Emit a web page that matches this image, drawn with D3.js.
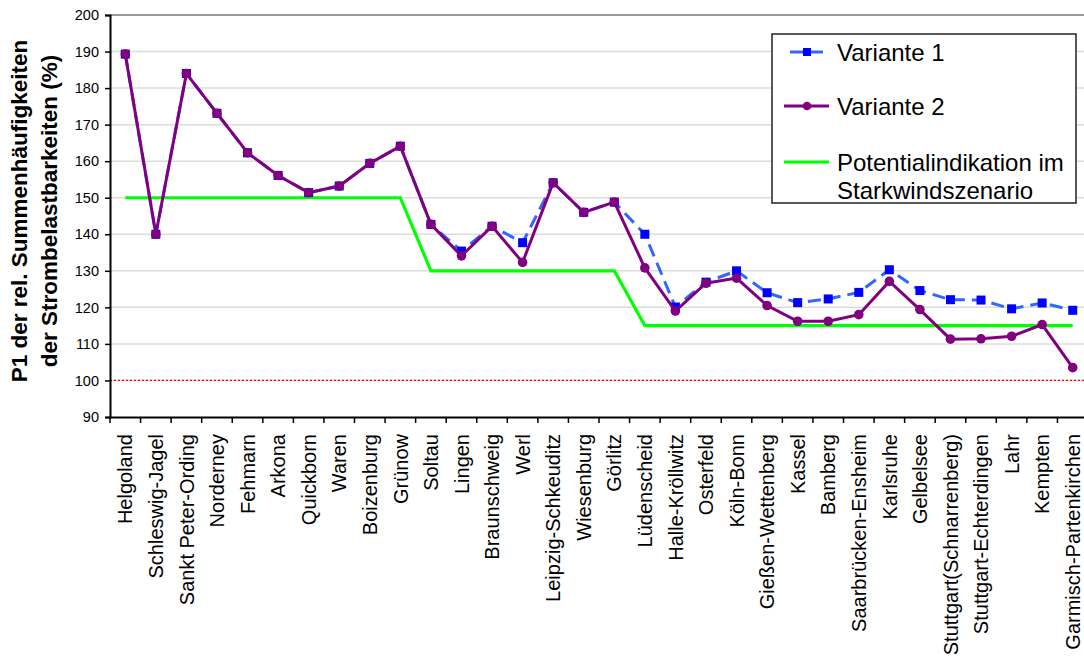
<!DOCTYPE html>
<html>
<head>
<meta charset="utf-8">
<script src="https://cdn.jsdelivr.net/npm/d3@7"></script>
<style>
  html, body { margin: 0; padding: 0; background: #ffffff; }
  svg { display: block; font-family: "Liberation Sans", Arial, sans-serif; }
</style>
</head>
<body>
<svg id="chart" width="1084" height="666"></svg>
<script>
const categories = ["Helgoland", "Schleswig-Jagel", "Sankt Peter-Ording", "Norderney", "Fehmarn", "Arkona", "Quickborn", "Waren", "Boizenburg", "Grünow", "Soltau", "Lingen", "Braunschweig", "Werl", "Leipzig-Schkeuditz", "Wiesenburg", "Görlitz", "Lüdenscheid", "Halle-Kröllwitz", "Osterfeld", "Köln-Bonn", "Gießen-Wettenberg", "Kassel", "Bamberg", "Saarbrücken-Ensheim", "Karlsruhe", "Gelbelsee", "Stuttgart(Schnarrenberg)", "Stuttgart-Echterdingen", "Lahr", "Kempten", "Garmisch-Partenkirchen"];

const variante1 = [189.3, 140.0, 184.0, 173.1, 162.3, 156.1, 151.4, 153.2, 159.4, 164.1, 142.7, 135.4, 142.2, 137.7, 154.1, 146.0, 148.8, 140.0, 120.1, 126.9, 130.0, 124.0, 121.3, 122.3, 124.1, 130.3, 124.6, 122.1, 122.0, 119.6, 121.2, 119.2];

const variante2 = [189.3, 140.0, 184.0, 173.1, 162.3, 156.1, 151.4, 153.2, 159.4, 164.1, 142.7, 134.1, 142.2, 132.3, 154.1, 146.0, 148.8, 130.8, 119.0, 126.6, 128.0, 120.5, 116.2, 116.2, 118.0, 127.1, 119.4, 111.3, 111.4, 112.1, 115.3, 103.5];

const potential = [150, 150, 150, 150, 150, 150, 150, 150, 150, 150, 130, 130, 130, 130, 130, 130, 130, 115, 115, 115, 115, 115, 115, 115, 115, 115, 115, 115, 115, 115, 115, 115];

const yTicks = [90, 100, 110, 120, 130, 140, 150, 160, 170, 180, 190, 200];
const referenceLine = 100;

const legendLabels = ["Variante 1", "Variante 2", ["Potentialindikation im", "Starkwindszenario"]];
const yTitle = ["P1 der rel. Summenhäufigkeiten", "der Strombelastbarkeiten (%)"];

const svg = d3.select("#chart");

const x = d3.scaleBand().domain(categories).range([110, 1088]).padding(0);
const y = d3.scaleLinear().domain([90, 200]).range([417, 15]);
const cx = d => x(d) + x.bandwidth() / 2;

// gridlines
svg.append("g").selectAll("line")
  .data(yTicks.filter(t => t > 90))
  .join("line")
  .attr("x1", 110).attr("x2", 1084)
  .attr("y1", d => y(d)).attr("y2", d => y(d))
  .attr("stroke", d => d === 200 ? "#9a9a9a" : "#dcdcdc")
  .attr("stroke-width", d => d === 200 ? 2 : 1.5);

// reference dotted line at 100
svg.append("line")
  .attr("x1", 110).attr("x2", 1084)
  .attr("y1", y(referenceLine)).attr("y2", y(referenceLine))
  .attr("stroke", "#ff0000").attr("stroke-width", 1.2)
  .attr("stroke-dasharray", "2,2");

// y axis
const yAxis = svg.append("g")
  .attr("transform", "translate(110,0)")
  .call(d3.axisLeft(y).tickValues(yTicks).tickSize(5).tickPadding(6).tickFormat(d3.format("d")));
yAxis.select(".domain").attr("stroke", "#000").attr("stroke-width", 2);
yAxis.selectAll(".tick line").attr("stroke", "#000").attr("stroke-width", 1.5);
yAxis.selectAll("text").attr("font-size", "14.5px").attr("fill", "#000")
  .attr("font-family", "Liberation Sans, Arial, sans-serif");

// x axis
const xAxis = svg.append("g")
  .attr("transform", "translate(0,417)")
  .call(d3.axisBottom(x).tickSize(0).tickPadding(0));
xAxis.select(".domain").attr("stroke", "#000").attr("stroke-width", 2);
xAxis.selectAll(".tick text")
  .attr("transform", "rotate(-90)")
  .attr("text-anchor", "end")
  .attr("x", -17)
  .attr("y", 0)
  .attr("dy", "0.36em")
  .attr("font-size", "20px")
  .attr("fill", "#000")
  .attr("font-family", "Liberation Sans, Arial, sans-serif");
// boundary ticks
svg.append("g").selectAll("line")
  .data(categories)
  .join("line")
  .attr("x1", d => x(d)).attr("x2", d => x(d))
  .attr("y1", 417).attr("y2", 423)
  .attr("stroke", "#000").attr("stroke-width", 1.5);

// green potential line
svg.append("path")
  .datum(potential)
  .attr("fill", "none")
  .attr("stroke", "#00ff00")
  .attr("stroke-width", 3.2)
  .attr("d", d3.line().x((d, i) => cx(categories[i])).y(d => y(d)));

// Variante 1
svg.append("path")
  .datum(variante1)
  .attr("fill", "none")
  .attr("stroke", "#3366ff")
  .attr("stroke-width", 3)
  .attr("stroke-dasharray", "13,7")
  .attr("d", d3.line().x((d, i) => cx(categories[i])).y(d => y(d)));
svg.append("g").selectAll("rect")
  .data(variante1)
  .join("rect")
  .attr("x", (d, i) => cx(categories[i]) - 4.5)
  .attr("y", d => y(d) - 4.5)
  .attr("width", 9).attr("height", 9)
  .attr("fill", "#0000ff");

// Variante 2
svg.append("path")
  .datum(variante2)
  .attr("fill", "none")
  .attr("stroke", "#800080")
  .attr("stroke-width", 3)
  .attr("d", d3.line().x((d, i) => cx(categories[i])).y(d => y(d)));
svg.append("g").selectAll("circle")
  .data(variante2)
  .join("circle")
  .attr("cx", (d, i) => cx(categories[i]))
  .attr("cy", d => y(d))
  .attr("r", 4.8)
  .attr("fill", "#800080");

// y title
const titleG = svg.append("g").attr("transform", "translate(0,211) rotate(-90)");
titleG.selectAll("text")
  .data(yTitle)
  .join("text")
  .attr("x", 0)
  .attr("y", (d, i) => 27 + i * 30)
  .attr("text-anchor", "middle")
  .attr("font-weight", "bold")
  .attr("font-size", "22.5px")
  .attr("fill", "#000")
  .text(d => d);

// legend
const lg = svg.append("g");
lg.append("rect")
  .attr("x", 772).attr("y", 34).attr("width", 304).attr("height", 169)
  .attr("fill", "#fff").attr("stroke", "#222").attr("stroke-width", 1.5);

const legendY = [52, 106, 162];
// V1 sample
lg.append("line").attr("x1", 784).attr("x2", 829).attr("y1", legendY[0]).attr("y2", legendY[0])
  .attr("stroke", "#3366ff").attr("stroke-width", 3).attr("stroke-dasharray", "13,7").attr("stroke-dashoffset", -6);
lg.append("rect").attr("x", 807 - 4).attr("y", legendY[0] - 4).attr("width", 8).attr("height", 8).attr("fill", "#0000ff");
// V2 sample
lg.append("line").attr("x1", 784).attr("x2", 829).attr("y1", legendY[1]).attr("y2", legendY[1])
  .attr("stroke", "#800080").attr("stroke-width", 3);
lg.append("circle").attr("cx", 807).attr("cy", legendY[1]).attr("r", 4.3).attr("fill", "#800080");
// green sample
lg.append("line").attr("x1", 784).attr("x2", 829).attr("y1", legendY[2]).attr("y2", legendY[2])
  .attr("stroke", "#00ff00").attr("stroke-width", 3.2);

legendLabels.forEach((lab, i) => {
  const t = lg.append("text")
    .attr("x", 837).attr("y", legendY[i])
    .attr("font-size", "24px")
    .attr("fill", "#000");
  if (Array.isArray(lab)) {
    lab.forEach((l, j) => t.append("tspan").attr("x", 837).attr("dy", j === 0 ? "0.36em" : "1.17em").text(l));
  } else {
    t.attr("dy", "0.36em").text(lab);
  }
});
</script>
</body>
</html>
